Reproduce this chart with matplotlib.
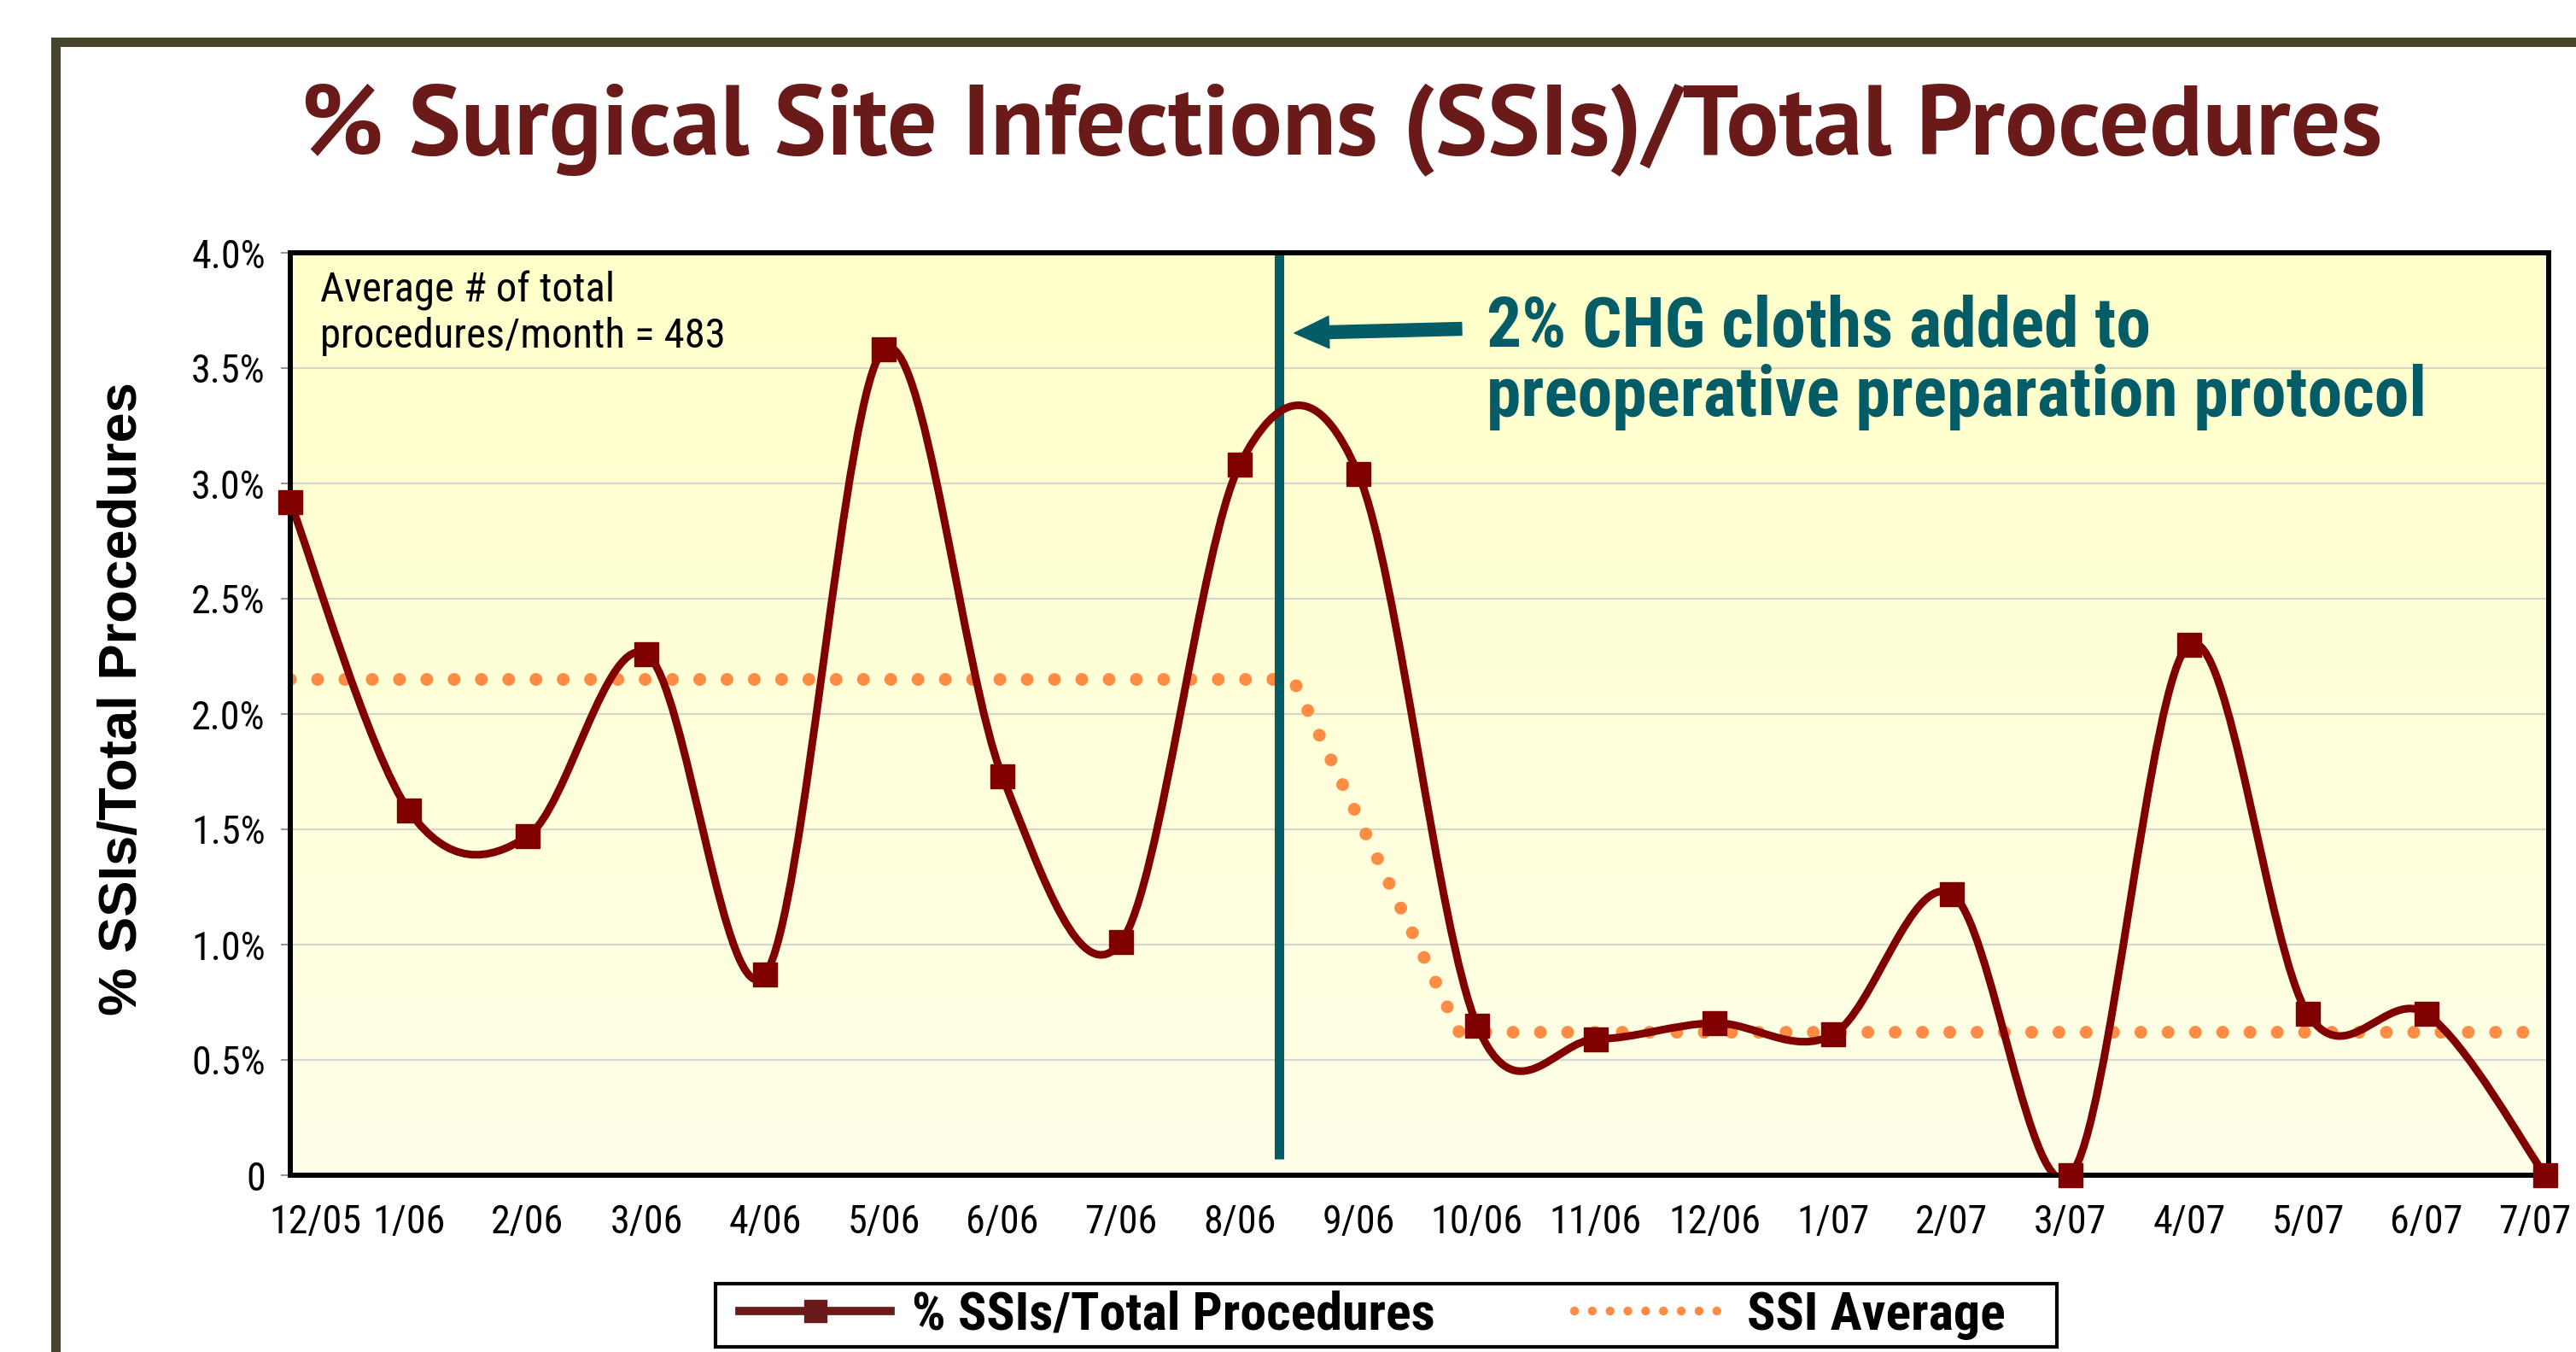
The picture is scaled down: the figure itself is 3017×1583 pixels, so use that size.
import numpy as np
import matplotlib
matplotlib.use("Agg")
import matplotlib.pyplot as plt
from matplotlib import font_manager
from matplotlib.path import Path
from matplotlib.patches import PathPatch, Rectangle
from matplotlib.lines import Line2D
from matplotlib.colors import LinearSegmentedColormap
from matplotlib.transforms import ScaledTranslation

# ---------------- data ----------------
months = ["12/05", "1/06", "2/06", "3/06", "4/06", "5/06", "6/06", "7/06", "8/06",
          "9/06", "10/06", "11/06", "12/06", "1/07", "2/07", "3/07", "4/07", "5/07",
          "6/07", "7/07"]
ssi_pct = [2.92, 1.58, 1.47, 2.26, 0.87, 3.58, 1.73, 1.01, 3.08,
           3.04, 0.65, 0.59, 0.66, 0.61, 1.22, 0.00, 2.30, 0.70,
           0.70, 0.00]
# SSI average line (month index position, value)
avg_pos = [0, 8.45, 9.85, 19]
avg_val = [2.15, 2.15, 0.62, 0.62]
intervention_pos = 8.33
y_ticks = [0, 0.5, 1.0, 1.5, 2.0, 2.5, 3.0, 3.5, 4.0]
y_tick_labels = ["0", "0.5%", "1.0%", "1.5%", "2.0%", "2.5%", "3.0%", "3.5%", "4.0%"]

# ---------------- fonts ----------------
ttf = font_manager.fontManager.ttflist

def _w(f):
    w = f.weight
    if isinstance(w, str):
        w = font_manager.weight_dict.get(w, 400)
    return w

def pick(cands, need_bold=True, need_regular=True):
    for c in cands:
        ws = [_w(f) for f in ttf if f.name == c and f.style == "normal"]
        if not ws:
            continue
        if need_bold and not any(w >= 600 for w in ws):
            continue
        if need_regular and not any(350 <= w <= 500 for w in ws):
            continue
        return c
    return "Liberation Sans"

NARROW = pick(["Liberation Sans Narrow", "Arial Narrow", "Roboto Condensed", "Archivo Narrow",
               "PT Sans Narrow", "IBM Plex Sans Condensed", "Fira Sans Condensed",
               "Encode Sans Condensed"])
ARIAL = "Liberation Sans"
TITLEF = pick(["Source Sans 3", "Source Sans Pro", "PT Sans", "Open Sans"], need_regular=False)

W, H = 3017, 1583
fig = plt.figure(figsize=(W / 100, H / 100), dpi=100)
fig.patch.set_facecolor("white")
renderer = fig.canvas.get_renderer()

def fx(px):
    return px / W

def fy(py):
    return 1 - py / H

def fit_width(t, target):
    w = t.get_window_extent(renderer).width
    t.set_fontsize(t.get_fontsize() * target / w)

def fit_height(t, target):
    h = t.get_window_extent(renderer).height
    t.set_fontsize(t.get_fontsize() * target / h)

# outer frame
frame = Rectangle((fx(64.5), fy(1700)), 1.2, fy(48.5) - fy(1700), transform=fig.transFigure,
                  fill=False, edgecolor="#46452B", linewidth=11 * 0.72, clip_on=False)
fig.patches.append(frame)

# title
title = fig.text(fx(1571), fy(152), "% Surgical Site Infections (SSIs)/Total Procedures",
                 ha="center", va="center", fontsize=72, color="#6B1A1A",
                 family=TITLEF, weight="bold")
fit_width(title, 2438)

# axes
L, R, T, B = 340, 2985, 296, 1376
ax = fig.add_axes([fx(L), fy(B), (R - L) / W, (B - T) / H])
ax.set_xlim(0, 19.03)
ax.set_ylim(0, 4.0)

# gradient background
cmap = LinearSegmentedColormap.from_list("bg", ["#FFFFE9", "#FFFFCA"])
grad = np.linspace(0, 1, 256).reshape(-1, 1)
ax.imshow(grad, extent=[0, 1, 0, 1], transform=ax.transAxes, aspect="auto",
          cmap=cmap, origin="lower", zorder=0)
ax.set_facecolor("#FFFFDD")

ax.set_yticks(y_ticks)
ax.set_yticklabels(y_tick_labels)
ax.yaxis.grid(True, color="#D6D6D0", linewidth=1.6, zorder=1)
ax.set_axisbelow(True)

x = np.arange(len(months))
ax.set_xticks(x)
ax.set_xticklabels(months)

# tick label size: limit "12/05" to ~108 px wide
tick_size = 37
probe = fig.text(0, 0, "12/05", fontsize=tick_size, family=NARROW)
wmax = probe.get_window_extent(renderer).width
probe.remove()
if wmax > 108:
    tick_size *= 108 / wmax

ax.tick_params(axis="y", length=8, width=1.2, color="#808080", pad=13,
               labelsize=tick_size, labelcolor="black")
ax.tick_params(axis="x", length=0, pad=24, labelsize=tick_size)
for lab in ax.get_yticklabels() + ax.get_xticklabels():
    lab.set_family(NARROW)
xl = ax.get_xticklabels()
xl[0].set_transform(xl[0].get_transform() + ScaledTranslation(0.29, 0, fig.dpi_scale_trans))
xl[-1].set_transform(xl[-1].get_transform() + ScaledTranslation(-0.12, 0, fig.dpi_scale_trans))

for s in ax.spines.values():
    s.set_linewidth(4.3)
    s.set_color("black")
    s.set_zorder(6)

# average (dotted orange)
ax.plot(avg_pos, avg_val, color="#FF8C42", linewidth=10.8,
        linestyle=(0, (0.001, 2.13)), dash_capstyle="round", zorder=3)

# intervention line
teal = "#035C66"
ax.vlines(intervention_pos, 0.07, 4.0, color=teal, linewidth=8, zorder=4)

# smoothed SSI curve as Bezier path (Excel-style smoothing)
pts = np.column_stack([x, ssi_pct]).astype(float)
verts = [tuple(pts[0])]
codes = [Path.MOVETO]
n = len(pts)
for i in range(n - 1):
    p0 = pts[i - 1] if i > 0 else pts[i]
    p1 = pts[i]
    p2 = pts[i + 1]
    p3 = pts[i + 2] if i + 2 < n else pts[i + 1]
    c1 = p1 + (p2 - p0) / 6.0
    c2 = p2 - (p3 - p1) / 6.0
    verts += [tuple(c1), tuple(c2), tuple(p2)]
    codes += [Path.CURVE4] * 3
curve = PathPatch(Path(verts, codes), facecolor="none", edgecolor="#800000",
                  linewidth=6.5, zorder=5, capstyle="round", joinstyle="round")
ax.add_patch(curve)
ax.plot(x, ssi_pct, linestyle="none", marker="s", markersize=20,
        color="#800000", zorder=7, clip_on=False)

# annotations
a1 = ax.text((375 - L) / (R - L), (B - 340) / (B - T), "Average # of total",
             transform=ax.transAxes, ha="left", va="center", fontsize=31, family=NARROW, zorder=8)
fit_width(a1, 345)
a2 = ax.text((375 - L) / (R - L), (B - 394) / (B - T), "procedures/month = 483",
             transform=ax.transAxes, ha="left", va="center", fontsize=a1.get_fontsize(),
             family=NARROW, zorder=8)
c2t = ax.text((1741 - L) / (R - L), (B - 465) / (B - T), "preoperative preparation protocol",
              transform=ax.transAxes, ha="left", va="center", fontsize=56, family=NARROW,
              weight="bold", color=teal, zorder=8)
fit_width(c2t, 1101)
c1t = ax.text((1741 - L) / (R - L), (B - 384) / (B - T), "2% CHG cloths added to",
              transform=ax.transAxes, ha="left", va="center", fontsize=c2t.get_fontsize(),
              family=NARROW, weight="bold", color=teal, zorder=8)
ax.annotate("", xy=((1516 - L) / 139, (B - 390) / 270), xytext=((1712 - L) / 139, (B - 385) / 270),
            arrowprops=dict(arrowstyle="simple,head_length=0.54,head_width=0.5,tail_width=0.2",
                            mutation_scale=54, color=teal, shrinkA=0, shrinkB=0), zorder=8)

# y label
yl = fig.text(fx(144), fy(818), "% SSIs/Total Procedures", rotation=90, ha="center", va="center",
              fontsize=45, family=ARIAL, weight="bold")
fit_height(yl, 743)

# legend (frame drawn separately to match the reference box)
legbox = Rectangle((fx(838), fy(1577)), fx(2409) - fx(838), fy(1503) - fy(1577),
                   transform=fig.transFigure, facecolor="white", edgecolor="black",
                   linewidth=3, zorder=1)
fig.patches.append(legbox)
probe = fig.text(0, 0, "% SSIs/Total Procedures", fontsize=40, family=NARROW, weight="bold")
leg_size = 40 * 612 / probe.get_window_extent(renderer).width
probe.remove()
em = leg_size * 100 / 72
h1 = Line2D([], [], color="#6B1A1A", linewidth=7, marker="s", markersize=19)
h2 = Line2D([], [], color="#FF8C42", linewidth=7.5, linestyle=(0, (0.001, 2.0)),
            dash_capstyle="round")
leg = fig.legend([h1, h2], ["% SSIs/Total Procedures", "SSI Average"],
                 loc="center left", bbox_to_anchor=(fx(866), fy(1540)), ncol=2,
                 frameon=False, borderpad=0, handlelength=177 / em, handletextpad=25 / em,
                 columnspacing=163 / em, borderaxespad=0,
                 prop=dict(family=NARROW, weight="bold", size=leg_size))

fig.savefig("out.png", dpi=100)
